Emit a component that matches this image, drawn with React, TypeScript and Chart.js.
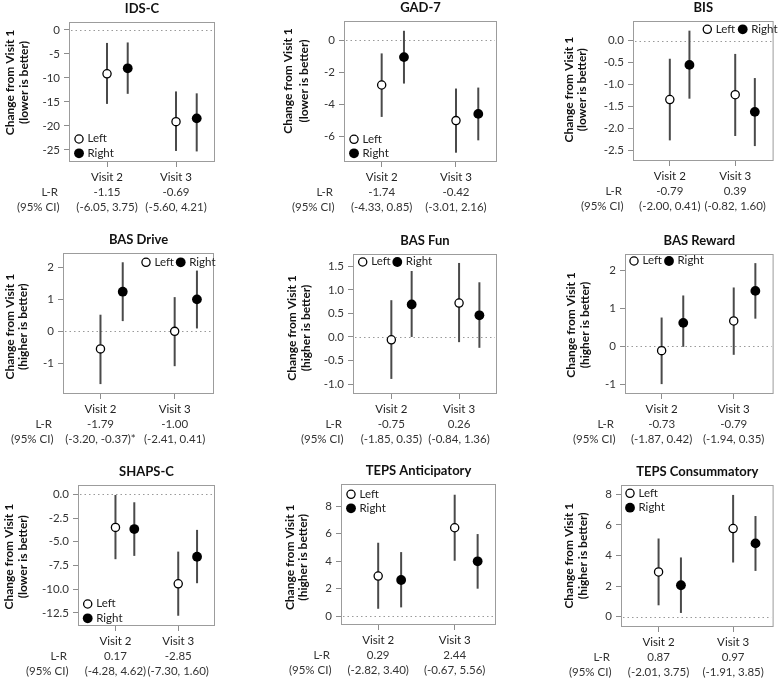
import React, { useEffect, useRef } from 'react';
import { Chart, registerables } from 'chart.js';

Chart.register(...registerables);

// ---------- data ----------
const visits = ['Visit 2', 'Visit 3'];

const measures = [
  'IDS-C', 'GAD-7', 'BIS',
  'BAS Drive', 'BAS Fun', 'BAS Reward',
  'SHAPS-C', 'TEPS Anticipatory', 'TEPS Consummatory',
];

const betterDirection = [
  'lower', 'lower', 'lower',
  'higher', 'higher', 'higher',
  'lower', 'higher', 'higher',
];

// change from Visit 1, per measure: [Visit 2, Visit 3]
const leftMean = [[-9.13, -19.10], [-2.80, -5.02], [-1.34, -1.23], [-0.55, 0.00], [-0.06, 0.72], [-0.11, 0.67], [-3.49, -9.43], [2.91, 6.42], [2.92, 5.76]];
const leftLower = [[-15.4, -25.2], [-4.79, -7.02], [-2.27, -2.17], [-1.65, -1.09], [-0.89, -0.11], [-0.99, -0.22], [-6.84, -12.8], [0.53, 4.02], [0.74, 3.54]];
const leftUpper = [[-2.7, -12.8], [-0.83, -3.02], [-0.41, -0.30], [0.52, 1.07], [0.78, 1.57], [0.76, 1.55], [-0.07, -6.04], [5.33, 8.82], [5.11, 7.96]];

const rightMean = [[-7.98, -18.41], [-1.06, -4.60], [-0.55, -1.62], [1.24, 1.00], [0.69, 0.46], [0.62, 1.46], [-3.66, -6.58], [2.62, 3.98], [2.05, 4.79]];
const rightLower = [[-13.3, -25.3], [-2.71, -6.25], [-1.32, -2.40], [0.32, 0.09], [0.00, -0.23], [-0.01, 0.73], [-6.49, -9.37], [0.63, 1.99], [0.24, 2.99]];
const rightUpper = [[-2.6, -13.2], [0.58, -2.96], [0.23, -0.85], [2.16, 1.90], [1.40, 1.16], [1.34, 2.19], [-0.84, -3.75], [4.65, 5.96], [3.87, 6.58]];

// Left minus Right estimates and their 95% CIs
const diffLR = [
  ['-1.15', '-0.69'], ['-1.74', '-0.42'], ['-0.79', '0.39'],
  ['-1.79', '-1.00'], ['-0.75', '0.26'], ['-0.73', '-0.79'],
  ['0.17', '-2.85'], ['0.29', '2.44'], ['0.87', '0.97'],
];
const diffCI = [
  ['(-6.05, 3.75)', '(-5.60, 4.21)'], ['(-4.33, 0.85)', '(-3.01, 2.16)'], ['(-2.00, 0.41)', '(-0.82, 1.60)'],
  ['(-3.20, -0.37)*', '(-2.41, 0.41)'], ['(-1.85, 0.35)', '(-0.84, 1.36)'], ['(-1.87, 0.42)', '(-1.94, 0.35)'],
  ['(-4.28, 4.62)', '(-7.30, 1.60)'], ['(-2.82, 3.40)', '(-0.67, 5.56)'], ['(-2.01, 3.75)', '(-1.91, 3.85)'],
];

const yTicks = [
  [0, -5, -10, -15, -20, -25], [0, -2, -4, -6], [0, -0.5, -1, -1.5, -2, -2.5],
  [2, 1, 0, -1], [1.5, 1, 0.5, 0, -0.5, -1], [2, 1, 0, -1],
  [0, -2.5, -5, -7.5, -10, -12.5], [0, 2, 4, 6, 8], [0, 2, 4, 6, 8],
];
const yDecimals = [0, 0, 1, 0, 1, 0, 1, 0, 0];
const yRange = [
  [-27.5, 1.66], [-7.6, 1.19], [-2.74, 0.45],
  [-1.96, 2.45], [-1.21, 1.76], [-1.25, 2.43],
  [-13.88, 0.98], [-0.65, 9.6], [-0.68, 8.61],
];

const series = [
  { name: 'Left', mean: leftMean, lower: leftLower, upper: leftUpper, shift: 0 },
  { name: 'Right', mean: rightMean, lower: rightLower, upper: rightUpper, shift: 0.3 },
];

// ---------- layout ----------
const FONT = 'Lato, "Open Sans", sans-serif';
const colX = [0, 260, 519];
const colW = [260, 259, 260];
const rowY = [0, 225, 450];
const rowH = [225, 225, 228];

// plot box [left, top, right, bottom] in page pixels
const panelBox = [
  [69, 22, 215, 162], [344, 21, 497, 162], [633, 21, 777, 161],
  [63, 253, 214, 394], [353, 254, 497, 394], [625, 254, 776, 394],
  [78, 485, 215, 626], [341, 484, 496, 625], [621, 485, 776, 627],
];
const xRange = [
  [0.449, 2.565], [0.493, 2.552], [0.437, 2.587],
  [0.495, 2.53], [0.434, 2.56], [0.492, 2.553],
  [0.403, 2.586], [0.514, 2.54], [0.496, 2.543],
];
// y title: [line 1 centre x, line 2 centre x, centre y]
const yTitlePos = [
  [10, 24, 82.5], [288, 304, 81], [569, 582, 89.7],
  [10, 23.5, 326.7], [292, 306, 328], [571, 585, 325],
  [9.5, 23.5, 556.7], [290, 303.5, 557.3], [569, 583, 555.8],
];
// legend symbol centres: [x1, y1, x2, y2]
const legendPos = [
  [79, 139, 79, 153.3], [354, 139.3, 354, 153.3], [707.3, 29.3, 742.7, 29.3],
  [146, 262.3, 180.7, 262.3], [362.7, 262, 397.3, 262], [634, 261, 669, 261],
  [87.7, 604, 87.7, 618.3], [351, 494.3, 351, 508.3], [630, 493.3, 630, 507.7],
];

const Y_AXIS_W = 40;
const X_AXIS_H = 25;
const OPEN_R = 4.1;
const FILLED_R = 4.9;

function cellOf(i: number) {
  const col = i % 3;
  const row = Math.floor(i / 3);
  return { x: colX[col], y: rowY[row], w: colW[col], h: rowH[row] };
}

function drawMarker(ctx: CanvasRenderingContext2D, x: number, y: number, filled: boolean) {
  ctx.beginPath();
  if (filled) {
    ctx.arc(x, y, FILLED_R, 0, Math.PI * 2);
    ctx.fillStyle = '#000';
    ctx.fill();
  } else {
    ctx.arc(x, y, OPEN_R, 0, Math.PI * 2);
    ctx.fillStyle = '#fff';
    ctx.fill();
    ctx.lineWidth = 1.3;
    ctx.strokeStyle = '#000';
    ctx.stroke();
  }
}

function buildPanel(canvas: HTMLCanvasElement, i: number) {
  const cell = cellOf(i);
  const [bl, bt, br, bb] = panelBox[i];
  const padding = {
    left: bl - cell.x - Y_AXIS_W,
    top: bt - cell.y,
    right: cell.x + cell.w - br,
    bottom: cell.y + cell.h - bb - X_AXIS_H,
  };

  const decor = {
    id: 'panelDecor',
    beforeDatasetsDraw(chart: any) {
      const { ctx, chartArea: a, scales } = chart;
      const xs = scales.x;
      const ys = scales.y;
      ctx.save();
      // dotted zero reference
      const y0 = Math.round(ys.getPixelForValue(0)) + 0.5;
      ctx.strokeStyle = '#9a9a9a';
      ctx.lineWidth = 1;
      ctx.setLineDash([1.5, 3]);
      ctx.beginPath();
      ctx.moveTo(a.left + 2, y0);
      ctx.lineTo(a.right - 2, y0);
      ctx.stroke();
      ctx.setLineDash([]);
      // 95% CI whiskers
      ctx.strokeStyle = '#4a4a4a';
      ctx.lineWidth = 2;
      series.forEach((s) => {
        s.lower[i].forEach((lo, j) => {
          const px = xs.getPixelForValue(j + 1 + s.shift);
          ctx.beginPath();
          ctx.moveTo(px, ys.getPixelForValue(lo));
          ctx.lineTo(px, ys.getPixelForValue(s.upper[i][j]));
          ctx.stroke();
        });
      });
      ctx.restore();
    },
    afterDraw(chart: any) {
      const { ctx, chartArea: a, scales } = chart;
      const xs = scales.x;
      ctx.save();
      // plot frame
      ctx.strokeStyle = '#9c9c9c';
      ctx.lineWidth = 1;
      ctx.strokeRect(a.left + 0.5, a.top + 0.5, a.right - a.left - 1, a.bottom - a.top - 1);

      // panel title
      ctx.fillStyle = '#111';
      ctx.font = `bold 13px ${FONT}`;
      ctx.textAlign = 'center';
      ctx.textBaseline = 'alphabetic';
      ctx.fillText(measures[i], (a.left + a.right) / 2, a.top - 9.5);

      // y title, two rotated lines
      const [tx1, tx2, ty] = yTitlePos[i];
      ctx.font = `bold 12px ${FONT}`;
      ctx.textBaseline = 'middle';
      const lines = ['Change from Visit 1', `(${betterDirection[i]} is better)`];
      [tx1, tx2].forEach((tx, k) => {
        ctx.save();
        ctx.translate(tx - cell.x, ty - cell.y);
        ctx.rotate(-Math.PI / 2);
        ctx.fillText(lines[k], 0, 0);
        ctx.restore();
      });

      // legend
      const [lx1, ly1, lx2, ly2] = legendPos[i];
      ctx.font = `11.5px ${FONT}`;
      ctx.textAlign = 'left';
      ctx.textBaseline = 'middle';
      [[lx1, ly1], [lx2, ly2]].forEach(([lx, ly], k) => {
        drawMarker(ctx, lx - cell.x, ly - cell.y, k === 1);
        ctx.fillStyle = '#222';
        ctx.fillText(series[k].name, lx - cell.x + 8.5, ly - cell.y - 0.5);
      });

      // L-R estimates under each visit
      ctx.fillStyle = '#333';
      ctx.font = `11.5px ${FONT}`;
      ctx.textBaseline = 'middle';
      const r1 = a.bottom + 30.5;
      const r2 = a.bottom + 45;
      ctx.textAlign = 'right';
      ctx.fillText('L-R', a.left - 11, r1);
      ctx.fillText('(95% CI)', a.left - 9.5, r2);
      ctx.textAlign = 'center';
      visits.forEach((_, j) => {
        const px = xs.getPixelForValue(j + 1);
        ctx.fillText(diffLR[i][j], px, r1);
        ctx.fillText(diffCI[i][j], px, r2);
      });
      ctx.restore();
    },
  };

  return new Chart(canvas, {
    type: 'scatter',
    data: {
      datasets: series.map((s, k) => ({
        label: s.name,
        data: s.mean[i].map((v, j) => ({ x: j + 1 + s.shift, y: v })),
        pointStyle: 'circle',
        pointRadius: k === 0 ? OPEN_R : FILLED_R,
        pointBorderWidth: k === 0 ? 1.3 : 0,
        pointBackgroundColor: k === 0 ? '#fff' : '#000',
        pointBorderColor: '#000',
        showLine: false,
      })),
    },
    options: {
      responsive: false,
      maintainAspectRatio: false,
      devicePixelRatio: 1,
      animation: false,
      events: [],
      layout: { padding },
      plugins: { legend: { display: false }, tooltip: { enabled: false }, title: { display: false } },
      scales: {
        x: {
          type: 'linear',
          min: xRange[i][0],
          max: xRange[i][1],
          afterBuildTicks: (scale: any) => { scale.ticks = visits.map((_, j) => ({ value: j + 1 })); },
          afterFit: (scale: any) => { scale.height = X_AXIS_H; },
          border: { display: false },
          grid: { drawOnChartArea: false, drawTicks: true, tickLength: 5, color: '#8c8c8c', lineWidth: 1 },
          ticks: {
            autoSkip: false,
            maxRotation: 0,
            padding: 3,
            color: '#222',
            font: { family: FONT, size: 11.5 },
            callback: (v: any) => visits[Math.round(Number(v)) - 1] ?? '',
          },
        },
        y: {
          type: 'linear',
          min: yRange[i][0],
          max: yRange[i][1],
          afterBuildTicks: (scale: any) => { scale.ticks = yTicks[i].map((v) => ({ value: v })); },
          afterFit: (scale: any) => { scale.width = Y_AXIS_W; },
          border: { display: false },
          grid: { drawOnChartArea: false, drawTicks: true, tickLength: 5, color: '#8c8c8c', lineWidth: 1 },
          ticks: {
            autoSkip: false,
            padding: 4,
            color: '#333',
            font: { family: FONT, size: 11.5 },
            callback: (v: any) => Number(v).toFixed(yDecimals[i]),
          },
        },
      },
    },
    plugins: [decor],
  } as any);
}

export default function App() {
  const refs = useRef<(HTMLCanvasElement | null)[]>([]);

  useEffect(() => {
    const charts = measures.map((_, i) => buildPanel(refs.current[i] as HTMLCanvasElement, i));
    return () => charts.forEach((c) => c.destroy());
  }, []);

  return (
    <div style={{ position: 'absolute', left: 0, top: 0, width: 779, height: 678, background: '#fff', overflow: 'hidden' }}>
      {measures.map((m, i) => {
        const c = cellOf(i);
        return (
          <canvas
            key={m}
            ref={(el) => { refs.current[i] = el; }}
            width={c.w}
            height={c.h}
            style={{ position: 'absolute', left: c.x, top: c.y, width: c.w, height: c.h }}
          />
        );
      })}
    </div>
  );
}
